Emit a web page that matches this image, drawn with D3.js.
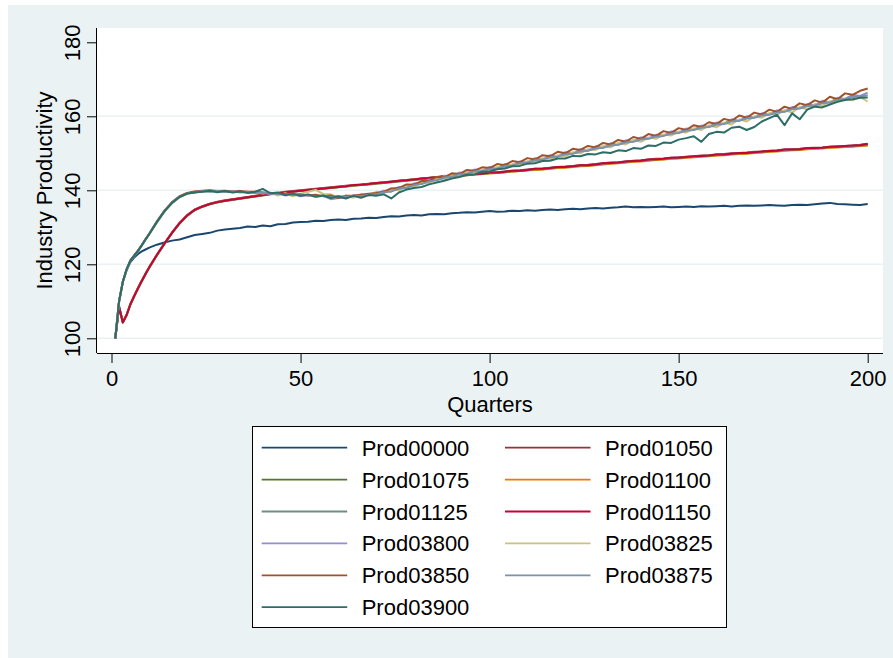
<!DOCTYPE html>
<html>
<head>
<meta charset="utf-8">
<script src="https://cdn.jsdelivr.net/npm/d3@7"></script>
<style>
  body { margin: 0; background: #fff; }
  text { font-family: "Liberation Sans", Arial, sans-serif; fill: #000; }
</style>
</head>
<body>
<svg id="chart"></svg>
<script>
let quarters = [1, 2, 3, 4, 5, 6, 7, 8, 9, 10,
  12, 14, 16, 18, 20, 22, 24, 26, 28, 30,
  32, 34, 36, 38, 40, 42, 44, 46, 48, 50,
  52, 54, 56, 58, 60, 62, 64, 66, 68, 70,
  72, 74, 76, 78, 80, 82, 84, 86, 88, 90,
  92, 94, 96, 98, 100, 102, 104, 106, 108, 110,
  112, 114, 116, 118, 120, 122, 124, 126, 128, 130,
  132, 134, 136, 138, 140, 142, 144, 146, 148, 150,
  152, 154, 156, 158, 160, 162, 164, 166, 168, 170,
  172, 174, 176, 178, 180, 182, 184, 186, 188, 190,
  192, 194, 196, 198, 200]

let prod00000 = [100, 109.8, 115.2, 118.4, 120.6, 121.8, 122.8, 123.5, 124.0, 124.5,
  125.3, 125.9, 126.4, 126.7, 127.3, 127.9, 128.2, 128.5, 129.1, 129.4,
  129.6, 129.8, 130.2, 130.1, 130.5, 130.3, 130.8, 130.9, 131.3, 131.4,
  131.5, 131.8, 131.7, 132.0, 132.1, 132.0, 132.3, 132.4, 132.6, 132.5,
  132.8, 133.0, 132.9, 133.2, 133.3, 133.2, 133.5, 133.6, 133.5, 133.8,
  133.9, 134.1, 134.0, 134.2, 134.4, 134.2, 134.3, 134.5, 134.4, 134.6,
  134.5, 134.7, 134.8, 134.7, 134.9, 135.0, 134.9, 135.1, 135.2, 135.1,
  135.3, 135.4, 135.6, 135.4, 135.5, 135.4, 135.5, 135.6, 135.4, 135.5,
  135.6, 135.5, 135.7, 135.6, 135.7, 135.8, 135.6, 135.8, 135.9, 135.8,
  135.9, 136.0, 135.9, 135.8, 136.0, 136.1, 136.0, 136.2, 136.4, 136.6,
  136.3, 136.2, 136.1, 136.0, 136.3]

let prod01050 = [100, 108.6, 104.4, 106.4, 109.3, 111.5, 113.6, 115.6, 117.5, 119.3,
  122.6, 125.7, 128.6, 131.2, 133.3, 134.8, 135.7, 136.4, 136.9, 137.3,
  137.6, 137.9, 138.2, 138.5, 138.8, 139.1, 139.3, 139.6, 139.8, 140.0,
  140.2, 140.4, 140.6, 140.8, 141.0, 141.2, 141.4, 141.6, 141.8, 142.0,
  142.2, 142.4, 142.6, 142.8, 143.0, 143.2, 143.4, 143.6, 143.8, 144.0,
  144.1, 144.3, 144.5, 144.6, 144.8, 144.9, 145.1, 145.3, 145.4, 145.6,
  145.8, 145.9, 146.1, 146.3, 146.4, 146.6, 146.8, 146.9, 147.1, 147.3,
  147.5, 147.6, 147.8, 148.0, 148.1, 148.3, 148.5, 148.6, 148.8, 148.9,
  149.1, 149.2, 149.4, 149.5, 149.7, 149.8, 150.0, 150.1, 150.2, 150.4,
  150.5, 150.7, 150.8, 151.0, 151.1, 151.2, 151.4, 151.5, 151.6, 151.8,
  151.9, 152.0, 152.1, 152.3, 152.6]

let prod01075 = [100, 108.4, 104.2, 106.2, 109.1, 111.3, 113.4, 115.4, 117.3, 119.1,
  122.4, 125.5, 128.4, 131.0, 133.1, 134.6, 135.5, 136.2, 136.7, 137.1,
  137.4, 137.7, 138.0, 138.3, 138.6, 138.9, 139.1, 139.4, 139.6, 139.8,
  140.0, 140.2, 140.4, 140.6, 140.8, 141.0, 141.2, 141.4, 141.6, 141.8,
  142.0, 142.2, 142.4, 142.6, 142.8, 143.0, 143.2, 143.4, 143.6, 143.8,
  143.9, 144.1, 144.3, 144.4, 144.6, 144.7, 144.9, 145.1, 145.2, 145.4,
  145.6, 145.7, 145.9, 146.1, 146.2, 146.4, 146.6, 146.7, 146.9, 147.1,
  147.3, 147.4, 147.6, 147.8, 147.9, 148.1, 148.3, 148.4, 148.6, 148.7,
  148.9, 149.0, 149.2, 149.3, 149.5, 149.6, 149.8, 149.9, 150.0, 150.2,
  150.3, 150.5, 150.6, 150.8, 150.9, 151.0, 151.2, 151.3, 151.4, 151.6,
  151.7, 151.8, 151.9, 152.1, 152.2]

let prod01100 = [100, 108.5, 104.3, 106.3, 109.2, 111.4, 113.5, 115.5, 117.4, 119.2,
  122.5, 125.6, 128.5, 131.1, 133.2, 134.7, 135.6, 136.3, 136.8, 137.2,
  137.5, 137.8, 138.1, 138.4, 138.7, 139.0, 139.2, 139.5, 139.7, 139.9,
  140.1, 140.3, 140.5, 140.7, 140.9, 141.1, 141.3, 141.5, 141.7, 141.9,
  142.1, 142.3, 142.5, 142.7, 142.9, 143.1, 143.3, 143.5, 143.7, 143.9,
  143.9, 144.1, 144.3, 144.4, 144.6, 144.7, 144.9, 145.1, 145.2, 145.4,
  145.5, 145.6, 145.8, 146.0, 146.1, 146.3, 146.5, 146.6, 146.8, 147.0,
  147.2, 147.3, 147.5, 147.7, 147.8, 148.0, 148.2, 148.3, 148.5, 148.6,
  148.8, 148.9, 149.1, 149.2, 149.4, 149.5, 149.7, 149.8, 149.9, 150.1,
  150.2, 150.4, 150.5, 150.7, 150.8, 150.9, 151.1, 151.2, 151.3, 151.5,
  151.6, 151.7, 151.8, 152.0, 152.1]

let prod01125 = [100, 108.5, 104.3, 106.3, 109.2, 111.4, 113.5, 115.5, 117.4, 119.2,
  122.5, 125.6, 128.5, 131.1, 133.2, 134.7, 135.6, 136.3, 136.8, 137.2,
  137.5, 137.8, 138.1, 138.4, 138.7, 139.0, 139.3, 139.5, 139.7, 139.9,
  140.1, 140.3, 140.5, 140.7, 140.9, 141.1, 141.3, 141.5, 141.7, 141.9,
  142.1, 142.3, 142.5, 142.7, 142.9, 143.1, 143.3, 143.5, 143.7, 143.9,
  144.0, 144.2, 144.4, 144.5, 144.7, 144.8, 145.0, 145.2, 145.3, 145.5,
  145.7, 145.8, 146.0, 146.2, 146.3, 146.5, 146.7, 146.8, 147.0, 147.2,
  147.4, 147.5, 147.7, 147.9, 148.0, 148.2, 148.4, 148.5, 148.7, 148.8,
  149.0, 149.1, 149.3, 149.4, 149.6, 149.7, 149.9, 150.0, 150.1, 150.3,
  150.4, 150.6, 150.7, 150.9, 151.0, 151.1, 151.3, 151.4, 151.5, 151.7,
  151.8, 151.9, 152.0, 152.2, 152.3]

let prod01150 = [100, 108.5, 104.3, 106.3, 109.2, 111.4, 113.5, 115.5, 117.4, 119.2,
  122.5, 125.6, 128.5, 131.1, 133.2, 134.7, 135.6, 136.3, 136.8, 137.2,
  137.5, 137.8, 138.1, 138.4, 138.7, 139.0, 139.2, 139.5, 139.7, 139.9,
  140.1, 140.3, 140.5, 140.7, 140.9, 141.1, 141.4, 141.5, 141.7, 142.0,
  142.1, 142.3, 142.6, 142.7, 142.9, 143.2, 143.3, 143.5, 143.8, 143.9,
  144.0, 144.3, 144.4, 144.5, 144.8, 144.8, 145.0, 145.3, 145.3, 145.5,
  145.8, 145.8, 146.0, 146.3, 146.3, 146.5, 146.8, 146.8, 147.0, 147.3,
  147.4, 147.5, 147.8, 147.9, 148.0, 148.3, 148.4, 148.5, 148.8, 148.8,
  149.0, 149.2, 149.3, 149.4, 149.7, 149.7, 149.9, 150.1, 150.1, 150.3,
  150.5, 150.6, 150.7, 151.0, 151.0, 151.1, 151.4, 151.4, 151.5, 151.8,
  151.8, 152.0, 152.1, 152.2, 152.5]

let prod03800 = [100, 110.1, 115.4, 118.7, 121.0, 122.4, 123.7, 125.2, 126.8, 128.3,
  131.5, 134.4, 136.7, 138.3, 139.2, 139.6, 139.8, 139.7, 139.9, 139.6,
  139.7, 139.5, 139.6, 139.3, 139.4, 139.0, 139.1, 138.6, 138.9, 138.4,
  138.7, 138.2, 138.5, 137.6, 137.9, 138.0, 138.6, 138.3, 138.9, 139.1,
  139.9, 139.7, 140.9, 140.7, 141.9, 141.7, 142.9, 142.7, 143.9, 143.8,
  144.8, 144.5, 145.6, 145.2, 146.3, 145.9, 147.1, 146.7, 147.8, 147.5,
  148.7, 148.3, 149.5, 149.1, 150.3, 149.9, 151.1, 150.7, 151.9, 151.5,
  152.7, 152.3, 153.5, 153.2, 154.3, 154.0, 155.0, 154.8, 155.9, 155.6,
  156.7, 156.4, 157.5, 157.2, 158.3, 158.0, 159.2, 158.8, 160.0, 159.7,
  160.8, 160.5, 161.6, 161.3, 162.5, 162.2, 163.3, 163.0, 164.2, 163.8,
  165.0, 164.7, 165.8, 165.5, 166.4]

let prod03825 = [100, 109.9, 115.2, 118.5, 120.9, 122.2, 123.5, 125.0, 126.6, 128.1,
  131.3, 134.2, 136.5, 138.1, 139.0, 139.5, 139.6, 139.9, 139.6, 139.8,
  139.5, 139.7, 139.3, 139.6, 139.1, 139.4, 138.6, 139.2, 138.4, 139.1,
  139.6, 140.1, 139.0, 138.9, 138.1, 138.6, 138.0, 139.0, 138.6, 139.6,
  139.2, 140.5, 140.0, 141.2, 140.9, 142.1, 142.0, 143.2, 142.9, 144.1,
  143.9, 144.9, 144.7, 145.6, 145.3, 146.3, 146.1, 147.1, 146.9, 147.9,
  147.6, 148.7, 148.3, 149.5, 149.2, 150.3, 150.0, 151.1, 150.9, 152.0,
  151.6, 152.8, 152.4, 153.6, 153.1, 154.3, 153.9, 155.1, 154.8, 155.9,
  155.6, 156.8, 156.3, 157.6, 157.0, 158.3, 157.8, 159.2, 158.6, 160.0,
  159.6, 160.9, 160.4, 161.7, 161.0, 162.5, 161.8, 163.3, 162.8, 164.1,
  163.9, 164.8, 164.3, 165.2, 164.0]

let prod03850 = [100, 110.0, 115.4, 118.7, 121.1, 122.4, 123.7, 125.2, 126.8, 128.3,
  131.6, 134.5, 136.8, 138.4, 139.3, 139.7, 139.9, 140.0, 139.8, 139.9,
  139.7, 139.8, 139.6, 139.6, 139.4, 139.3, 139.1, 139.0, 138.8, 138.9,
  138.6, 138.8, 138.4, 138.6, 137.9, 138.5, 138.6, 138.8, 139.1, 139.3,
  139.6, 140.5, 140.6, 141.6, 141.5, 142.5, 142.5, 143.6, 143.5, 144.6,
  144.4, 145.5, 145.3, 146.2, 146.0, 147.1, 146.8, 147.9, 147.6, 148.7,
  148.3, 149.5, 149.2, 150.4, 150.0, 151.2, 150.9, 152.0, 151.6, 152.8,
  152.4, 153.6, 153.1, 154.4, 153.9, 155.2, 154.7, 156.0, 155.5, 156.8,
  156.3, 157.6, 157.1, 158.4, 157.9, 159.3, 158.8, 160.2, 159.6, 161.0,
  160.5, 161.8, 161.2, 162.6, 162.0, 163.5, 163.0, 164.3, 163.7, 165.3,
  164.6, 166.2, 165.8, 166.9, 167.5]

let prod03875 = [100, 110.0, 115.3, 118.6, 121.0, 122.3, 123.6, 125.1, 126.7, 128.2,
  131.4, 134.3, 136.6, 138.2, 139.1, 139.4, 139.8, 139.6, 139.8, 139.6,
  139.7, 139.5, 139.5, 139.3, 139.4, 139.1, 139.1, 138.8, 138.9, 138.6,
  138.7, 138.4, 138.5, 138.1, 138.4, 138.2, 138.5, 138.4, 138.8, 138.9,
  139.5, 139.7, 140.4, 140.7, 141.4, 141.7, 142.4, 142.7, 143.4, 143.7,
  144.3, 144.5, 145.1, 145.2, 145.7, 145.9, 146.5, 146.7, 147.3, 147.5,
  148.1, 148.3, 148.9, 149.1, 149.7, 149.9, 150.5, 150.7, 151.3, 151.5,
  152.1, 152.3, 152.9, 153.1, 153.7, 153.9, 154.5, 154.7, 155.3, 155.5,
  156.1, 156.3, 156.9, 157.1, 157.7, 157.9, 158.6, 158.8, 159.4, 159.6,
  160.2, 160.4, 161.0, 161.2, 161.9, 162.1, 162.7, 162.9, 163.5, 163.7,
  164.4, 164.6, 165.2, 165.4, 165.7]

let prod03900 = [100, 110.0, 115.3, 118.6, 121.0, 122.3, 123.6, 125.1, 126.7, 128.2,
  131.4, 134.3, 136.6, 138.2, 139.1, 139.4, 139.6, 139.9, 139.5, 139.8,
  139.4, 139.7, 139.3, 139.6, 140.4, 139.2, 139.4, 138.7, 139.1, 138.5,
  138.9, 138.3, 138.6, 137.9, 138.4, 137.8, 138.5, 138.0, 138.7, 138.5,
  138.9, 137.8, 139.4, 140.2, 140.6, 140.9, 141.6, 142.1, 142.6, 143.2,
  143.6, 144.2, 144.3, 145.0, 145.1, 145.7, 145.9, 146.5, 146.6, 147.2,
  147.3, 147.9, 148.0, 148.6, 148.6, 149.3, 149.2, 149.8, 149.7, 150.3,
  150.1, 150.8, 150.6, 151.4, 151.2, 152.1, 152.0, 152.9, 152.8, 153.7,
  154.1, 154.6, 153.1, 155.2, 155.8, 155.6, 156.9, 157.2, 156.3, 157.1,
  158.6, 159.5, 160.4, 157.6, 160.8, 159.2, 161.8, 162.6, 162.4, 163.2,
  163.9, 164.4, 164.6, 165.0, 165.1]

let seriesNames = ['Prod00000', 'Prod01050', 'Prod01075', 'Prod01100', 'Prod01125', 'Prod01150',
  'Prod03800', 'Prod03825', 'Prod03850', 'Prod03875', 'Prod03900']
let seriesValues = [prod00000, prod01050, prod01075, prod01100, prod01125, prod01150,
  prod03800, prod03825, prod03850, prod03875, prod03900]
// stata s2color order
let seriesColors = ['#1a476f', '#90353b', '#55752f', '#e37e00', '#6e8e84', '#c10534',
  '#938dd2', '#cac27e', '#a0522d', '#7b92a8', '#2d6d66']

let xTicks = [0, 50, 100, 150, 200]
let yTicks = [100, 120, 140, 160, 180]
let yGrid = [100, 120, 140, 160]

function drawChart () {
  let svgWidth = 893
  let svgHeight = 658
  let plot = { left: 97, right: 883, top: 28, bottom: 353 }

  let svg = d3.select('#chart')
    .attr('width', svgWidth)
    .attr('height', svgHeight)

  // graph region
  svg.append('rect')
    .attr('x', 8).attr('y', 5)
    .attr('width', svgWidth - 8).attr('height', svgHeight - 5)
    .attr('fill', '#eaf2f3')

  // plot region
  svg.append('rect')
    .attr('x', plot.left).attr('y', plot.top)
    .attr('width', plot.right - plot.left).attr('height', plot.bottom - plot.top)
    .attr('fill', '#fff')

  let x = d3.scaleLinear().domain([0, 200]).range([111.5, 867.7])
  let y = d3.scaleLinear().domain([100, 180]).range([338.3, 42.3])

  svg.append('g')
    .selectAll('line')
    .data(yGrid)
    .join('line')
    .attr('x1', plot.left).attr('x2', plot.right)
    .attr('y1', d => y(d)).attr('y2', d => y(d))
    .attr('stroke', '#eaf2f3')
    .attr('stroke-width', 1.6)

  let line = d3.line()
    .x((d, i) => x(quarters[i]))
    .y(d => y(d))

  svg.append('g')
    .selectAll('path')
    .data(seriesValues)
    .join('path')
    .attr('d', d => line(d))
    .attr('fill', 'none')
    .attr('stroke', (d, i) => seriesColors[i])
    .attr('stroke-width', 2)
    .attr('stroke-linejoin', 'round')

  // x axis
  let xAxis = svg.append('g')
    .attr('transform', `translate(0, ${plot.bottom})`)
    .call(d3.axisBottom(x).tickValues(xTicks).tickSize(10).tickPadding(7).tickSizeOuter(0))
  xAxis.select('.domain').attr('d', `M${plot.left},0.5H${plot.right}`).attr('stroke', '#000')
  xAxis.selectAll('text').attr('font-size', 22).attr('font-family', 'Liberation Sans, Arial, sans-serif')

  // y axis
  let yAxis = svg.append('g')
    .attr('transform', `translate(${plot.left}, 0)`)
    .call(d3.axisLeft(y).tickValues(yTicks).tickSize(10).tickSizeOuter(0))
  yAxis.select('.domain').attr('d', `M-0.5,${plot.top}V${plot.bottom}`).attr('stroke', '#000')
  yAxis.selectAll('text')
    .attr('font-size', 22)
    .attr('font-family', 'Liberation Sans, Arial, sans-serif')
    .attr('text-anchor', 'middle')
    .attr('dy', null)
    .attr('x', null)
    .attr('transform', d => `translate(-17, 0) rotate(-90)`)

  svg.append('text')
    .attr('transform', `translate(52, ${(plot.top + plot.bottom) / 2}) rotate(-90)`)
    .attr('text-anchor', 'middle')
    .attr('font-size', 22)
    .text('Industry Productivity')

  svg.append('text')
    .attr('x', (plot.left + plot.right) / 2)
    .attr('y', 412)
    .attr('text-anchor', 'middle')
    .attr('font-size', 22)
    .text('Quarters')

  // legend
  let legend = svg.append('g')
  legend.append('rect')
    .attr('x', 252.5).attr('y', 426.5)
    .attr('width', 474).attr('height', 201)
    .attr('fill', '#fff')
    .attr('stroke', '#000')
    .attr('stroke-width', 1)

  let items = legend.selectAll('g.item')
    .data(seriesNames)
    .join('g')
    .attr('class', 'item')
    .attr('transform', (d, i) => `translate(${i % 2 === 0 ? 261.7 : 505}, ${447.7 + Math.floor(i / 2) * 31.9})`)

  items.append('line')
    .attr('x1', 0).attr('x2', 85.5)
    .attr('stroke', (d, i) => seriesColors[i])
    .attr('stroke-width', 1.8)

  items.append('text')
    .attr('x', 100)
    .attr('y', 8)
    .attr('font-size', 22)
    .text(d => d)
}

drawChart()
</script>
</body>
</html>
